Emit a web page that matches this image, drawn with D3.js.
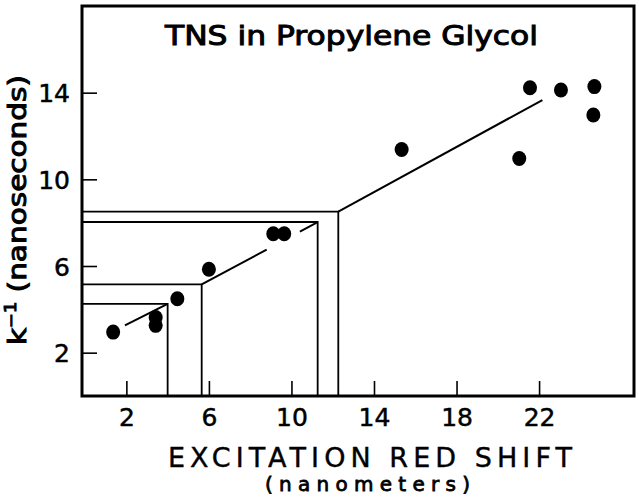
<!DOCTYPE html>
<html>
<head>
<meta charset="utf-8">
<script src="https://cdn.jsdelivr.net/npm/d3@7"></script>
<style>
  html, body { margin: 0; padding: 0; background: #fff; }
  svg { display: block; }
  text { font-family: "DejaVu Sans", sans-serif; fill: #000; }
</style>
</head>
<body>
<svg id="chart" width="639" height="501"></svg>
<script>
// ---- data ----
const redShift = [1.36, 3.42, 3.42, 4.47, 6.0, 9.12, 9.65, 15.34, 21.04, 21.56, 23.06, 24.63, 24.68];
const invK     = [2.95, 3.62, 3.26, 4.49, 5.85, 7.49, 7.49, 11.38, 10.96, 14.23, 14.12, 12.97, 14.28];

// fitted line pieces (x, y end points)
const fitSegX = [[1.93, 4.0], [5.65, 8.8], [10.41, 11.27], [12.27, 22.16]];
const fitSegY = [[3.26, 4.25], [5.15, 6.76], [7.59, 8.03], [8.51, 13.66]];

// guide lines: corners where horizontal & vertical construction lines meet the fit
const guideX = [4.0, 5.65, 11.27, 12.27];
const guideY = [4.25, 5.15, 8.03, 8.51];

const xTicks = [2, 6, 10, 14, 18, 22];
const yTicks = [2, 6, 10, 14];

const titleText = "TNS in Propylene Glycol";
const xLabel1 = "EXCITATION RED SHIFT";
const xLabel2 = "(nanometers)";

// ---- chart ----
const svg = d3.select("#chart");
const x = d3.scaleLinear().domain([-0.15, 26.6]).range([82, 634]);
const y = d3.scaleLinear().domain([0, 18]).range([396, 6]);

// frame
svg.append("rect")
  .attr("x", x.range()[0]).attr("y", y.range()[1])
  .attr("width", x.range()[1] - x.range()[0])
  .attr("height", y.range()[0] - y.range()[1])
  .attr("fill", "none").attr("stroke", "#000").attr("stroke-width", 3);

// axes with inward ticks
const xAxis = d3.axisBottom(x).tickValues(xTicks).tickSize(-15).tickPadding(14).tickFormat(d3.format("d"));
const gx = svg.append("g").attr("transform", `translate(0,${y(0)})`).call(xAxis);
gx.select(".domain").remove();
gx.selectAll(".tick line").attr("stroke", "#000").attr("stroke-width", 1.6);
gx.selectAll(".tick text").attr("font-size", 25).attr("dy", "0.62em")
  .attr("stroke", "#000").attr("stroke-width", 0.5);

const yAxis = d3.axisLeft(y).tickValues(yTicks).tickSize(-15).tickPadding(12).tickFormat(d3.format("d"));
const gy = svg.append("g").attr("transform", `translate(${x.range()[0]},0)`).call(yAxis);
gy.select(".domain").remove();
gy.selectAll(".tick line").attr("stroke", "#000").attr("stroke-width", 1.6);
gy.selectAll(".tick text").attr("font-size", 25).attr("dy", "0.36em")
  .attr("stroke", "#000").attr("stroke-width", 0.5);

// construction lines
const guides = svg.append("g").attr("stroke", "#000").attr("stroke-width", 1.8).attr("fill", "none");
guideX.forEach((gxv, i) => {
  guides.append("path").attr("d", d3.line()([
    [x.range()[0], y(guideY[i])],
    [x(gxv), y(guideY[i])],
    [x(gxv), y(0)]
  ]));
});

// fit line pieces
const fit = svg.append("g").attr("stroke", "#000").attr("stroke-width", 2).attr("fill", "none");
fitSegX.forEach((sx, i) => {
  fit.append("line")
    .attr("x1", x(sx[0])).attr("y1", y(fitSegY[i][0]))
    .attr("x2", x(sx[1])).attr("y2", y(fitSegY[i][1]));
});

// points
svg.append("g").selectAll("ellipse").data(redShift).join("ellipse")
  .attr("cx", (d) => x(d)).attr("cy", (d, i) => y(invK[i]))
  .attr("rx", 7).attr("ry", 7.5).attr("fill", "#000");

// title
svg.append("text").attr("x", 165).attr("y", 45)
  .attr("font-size", 27).attr("stroke", "#000").attr("stroke-width", 1)
  .attr("textLength", 373).attr("lengthAdjust", "spacingAndGlyphs")
  .text(titleText);

// x labels
svg.append("text").attr("x", 168).attr("y", 467)
  .attr("font-size", 27).attr("stroke", "#000").attr("stroke-width", 0.4)
  .attr("textLength", 404).attr("lengthAdjust", "spacing")
  .text(xLabel1);
svg.append("text").attr("x", 265).attr("y", 491)
  .attr("font-size", 20).attr("stroke", "#000").attr("stroke-width", 0.8)
  .attr("textLength", 205).attr("lengthAdjust", "spacing")
  .text(xLabel2);

// y label
const yl = svg.append("text").attr("transform", "translate(26,345) rotate(-90)")
  .attr("font-size", 25).attr("stroke", "#000").attr("stroke-width", 1)
  .attr("textLength", 270).attr("lengthAdjust", "spacingAndGlyphs");
yl.append("tspan").text("k");
yl.append("tspan").attr("font-size", 15).attr("dy", -10).text("−1");
yl.append("tspan").attr("dy", 10).text(" (nanoseconds)");
</script>
</body>
</html>
